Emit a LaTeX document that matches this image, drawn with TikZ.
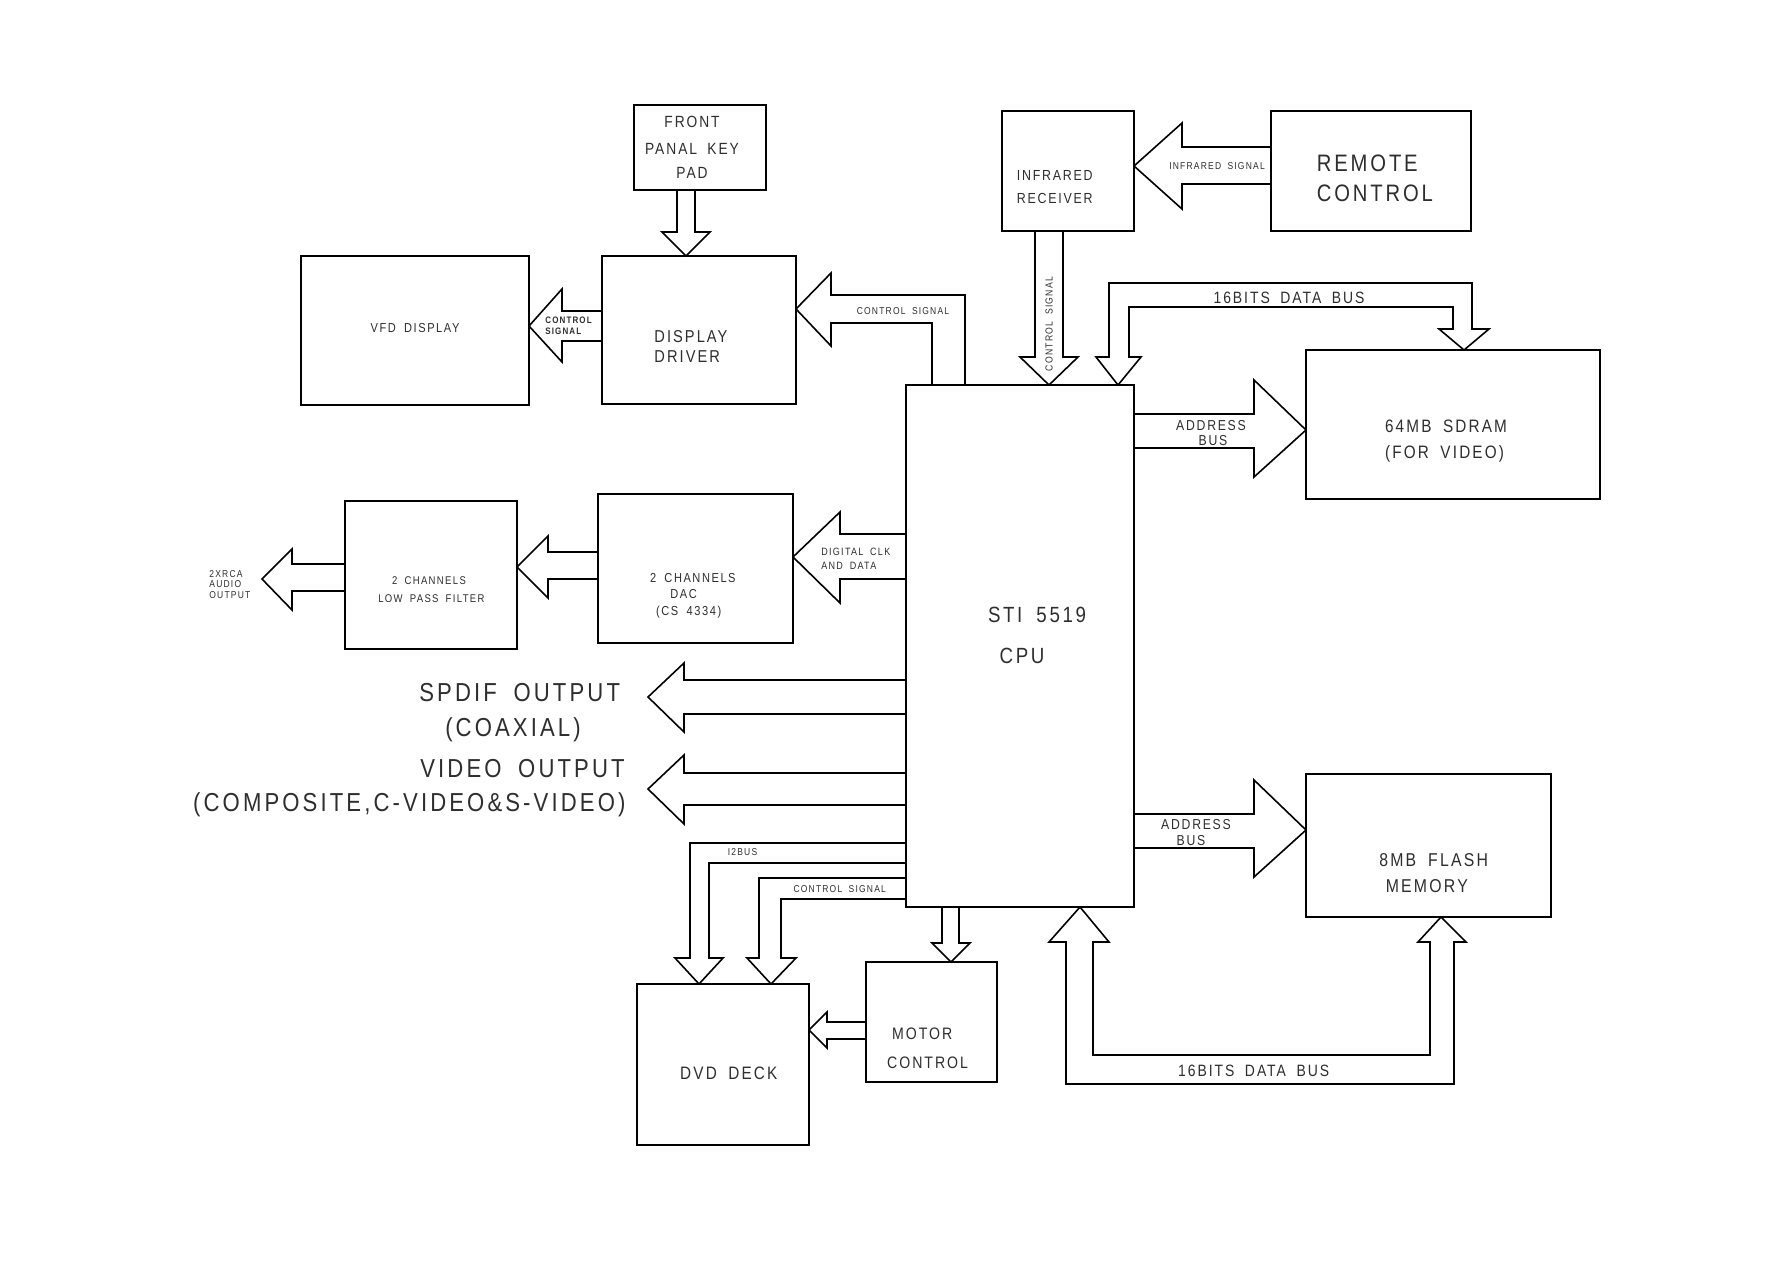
\documentclass[tikz,border=0pt]{standalone}
\usepackage{fontspec}
\setmainfont{Liberation Sans}[LetterSpace=12.0,FakeStretch=0.85,WordSpace=1.8]
\newcommand\fsz[1]{\fontsize{#1pt}{#1pt}\selectfont}
\begin{document}
\begin{tikzpicture}[x=0.5pt,y=-0.5pt,
  box/.style={draw, line width=0.8pt, outer sep=0pt, inner sep=0pt, anchor=north west},
  blk/.style={draw, line width=0.8pt, line join=miter},
  t/.style={inner sep=0pt, anchor=base, text=black!82},
  tl/.style={inner sep=0pt, anchor=base west, text=black!82}]
\fill[white] (0,0) rectangle (1787,1263);
\useasboundingbox (0,0) rectangle (1787,1263);

% ---------- boxes ----------
\node[box, minimum width=66pt,   minimum height=42.5pt] (front) at (634,105) {};
\node[box, minimum width=114pt,  minimum height=74.5pt] (vfd)   at (301,256) {};
\node[box, minimum width=97pt,   minimum height=74pt]   (drv)   at (602,256) {};
\node[box, minimum width=66pt,   minimum height=60pt]   (irr)   at (1002,111) {};
\node[box, minimum width=100pt,  minimum height=60pt]   (rc)    at (1271,111) {};
\node[box, minimum width=114pt,  minimum height=261pt]  (cpu)   at (906,385) {};
\node[box, minimum width=147pt,  minimum height=74.5pt] (sdram) at (1306,350) {};
\node[box, minimum width=86pt,   minimum height=74pt]   (lpf)   at (345,501) {};
\node[box, minimum width=97.5pt, minimum height=74.5pt] (dac)   at (598,494) {};
\node[box, minimum width=122.5pt,minimum height=71.5pt] (flash) at (1306,774) {};
\node[box, minimum width=86pt,   minimum height=80.5pt] (dvd)   at (637,984) {};
\node[box, minimum width=65.5pt, minimum height=60pt]   (motor) at (866,962) {};

\coordinate (aout) at (262,579);
\coordinate (spdifend) at (648,697);
\coordinate (vidend) at (648,789);

% ---------- block arrows ----------
% front panel -> display driver
\draw[blk] (front.south -| 677,0) -- (677,232) -- (662,232) -- (drv.north -| 686,0) -- (710,232) -- (695,232) -- (front.south -| 695,0);
% display driver -> VFD
\draw[blk] (drv.west |- 0,311) -- (562,311) -- (562,289) -- (vfd.east |- 0,326) -- (562,362) -- (562,341) -- (drv.west |- 0,341);
% CPU -> display driver
\draw[blk] (cpu.north -| 965,0) -- (965,295) -- (831,295) -- (831,273) -- (drv.east |- 0,309) -- (831,346) -- (831,323) -- (932,323) -- (cpu.north -| 932,0);
% remote -> IR receiver
\draw[blk] (rc.west |- 0,147) -- (1182,147) -- (1182,123) -- (irr.east |- 0,166) -- (1182,209) -- (1182,184) -- (rc.west |- 0,184);
% IR receiver -> CPU
\draw[blk] (irr.south -| 1035,0) -- (1035,357) -- (1020,357) -- (cpu.north -| 1049,0) -- (1078,357) -- (1063,357) -- (irr.south -| 1063,0);
% 16 bit data bus CPU <-> SDRAM
\draw[blk] (cpu.north -| 1118,0) -- (1096,357) -- (1109,357) -- (1109,283) -- (1472,283) -- (1472,329) -- (1489,329) -- (sdram.north -| 1464,0) -- (1439,329) -- (1453,329) -- (1453,307) -- (1129,307) -- (1129,357) -- (1141,357) -- cycle;
% address bus CPU -> SDRAM
\draw[blk] (cpu.east |- 0,414) -- (1254,414) -- (1254,380) -- (sdram.west |- 0,430) -- (1254,477) -- (1254,448) -- (cpu.east |- 0,448);
% address bus CPU -> flash
\draw[blk] (cpu.east |- 0,814) -- (1254,814) -- (1254,780) -- (flash.west |- 0,830) -- (1254,877) -- (1254,848) -- (cpu.east |- 0,848);
% 16 bit data bus CPU <-> flash
\draw[blk] (cpu.south -| 1080,0) -- (1109,942) -- (1093,942) -- (1093,1055) -- (1430,1055) -- (1430,942) -- (1418,942) -- (flash.south -| 1441,0) -- (1466,942) -- (1454,942) -- (1454,1084) -- (1066,1084) -- (1066,942) -- (1049,942) -- cycle;
% CPU -> DAC
\draw[blk] (cpu.west |- 0,534) -- (840,534) -- (840,512) -- (dac.east |- 0,557) -- (840,603) -- (840,579) -- (cpu.west |- 0,579);
% DAC -> LPF
\draw[blk] (dac.west |- 0,552) -- (548,552) -- (548,536) -- (lpf.east |- 0,567) -- (548,598) -- (548,579) -- (dac.west |- 0,579);
% LPF -> audio out
\draw[blk] (lpf.west |- 0,564) -- (292,564) -- (292,549) -- (aout) -- (292,610) -- (292,591) -- (lpf.west |- 0,591);
% SPDIF out
\draw[blk] (cpu.west |- 0,680) -- (684,680) -- (684,663) -- (spdifend) -- (684,732) -- (684,714) -- (cpu.west |- 0,714);
% video out
\draw[blk] (cpu.west |- 0,773) -- (684,773) -- (684,755) -- (vidend) -- (684,824) -- (684,805) -- (cpu.west |- 0,805);
% I2BUS
\draw[blk] (cpu.west |- 0,843) -- (690,843) -- (690,958) -- (675,958) -- (dvd.north -| 699,0) -- (723,958) -- (709,958) -- (709,863) -- (cpu.west |- 0,863);
% control signal to DVD deck
\draw[blk] (cpu.west |- 0,878) -- (759,878) -- (759,958) -- (747,958) -- (dvd.north -| 771,0) -- (796,958) -- (781,958) -- (781,899) -- (cpu.west |- 0,899);
% CPU -> motor control
\draw[blk] (cpu.south -| 942,0) -- (942,943) -- (932,943) -- (motor.north -| 951,0) -- (970,943) -- (959,943) -- (cpu.south -| 959,0);
% motor control -> DVD deck
\draw[blk] (motor.west |- 0,1022) -- (827,1022) -- (827,1012) -- (dvd.east |- 0,1030) -- (827,1048) -- (827,1039) -- (motor.west |- 0,1039);

% ---------- texts ----------
\node[t, font=\fsz{8.1}] (tf1) at (692,127.5) {FRONT};
\node[t, font=\fsz{8.1}] (tf2) at (692,154.1) {PANAL KEY};
\node[t, font=\fsz{8.1}] (tf3) at (692,178.5) {PAD};
\node[t, font=\fsz{6.5}] (tvfd) at (415,332.7) {VFD DISPLAY};
\node[tl, font=\fsz{8.6}] (td1) at (654,342.9) {DISPLAY};
\node[tl, font=\fsz{8.6}] (td2) at (654,362.9) {DRIVER};
\node[tl, font=\bfseries\fsz{4.7}] (tc1) at (545,323.4) {CONTROL};
\node[tl, font=\bfseries\fsz{4.7}] (tc2) at (545,334.1) {SIGNAL};
\node[t, font=\fsz{5}] (tc3) at (903,314.3) {CONTROL SIGNAL};
\node[tl, font=\fsz{7.3}] (ti1) at (1016.5,180.2) {INFRARED};
\node[tl, font=\fsz{7.3}] (ti2) at (1016.5,203.5) {RECEIVER};
\node[t, font=\fsz{5}] (tis) at (1217,169.6) {INFRARED SIGNAL};
\node[tl, font=\fsz{11.9}] (tr1) at (1316.5,171.8) {REMOTE};
\node[tl, font=\fsz{11.9}] (tr2) at (1316.5,201.8) {CONTROL};
\node[inner sep=0pt, rotate=90, text=black!82, font=\fsz{5.1}] (tc4) at (1049,324) {CONTROL SIGNAL};
\node[t, font=\fsz{8.2}] (tb1) at (1289,303.2) {16BITS DATA BUS};
\node[t, font=\fsz{7.2}] (ta1) at (1211,430.2) {ADDRESS};
\node[t, font=\fsz{7.2}] (ta2) at (1213,445.9) {BUS};
\node[t, font=\fsz{9}] (ts1) at (1446,432.4) {64MB SDRAM};
\node[t, font=\fsz{9}] (ts2) at (1444.5,458.1) {(FOR VIDEO)};
\node[t, font=\fsz{11}] (tcpu1) at (1037,622.4) {STI 5519};
\node[t, font=\fsz{11}] (tcpu2) at (1022,663.7) {CPU};
\node[t, font=\fsz{7.2}] (ta3) at (1196,829.5) {ADDRESS};
\node[t, font=\fsz{7.2}] (ta4) at (1191,845.2) {BUS};
\node[t, font=\fsz{9.3}] (tfl1) at (1433.7,866) {8MB FLASH};
\node[t, font=\fsz{9.3}] (tfl2) at (1426.8,892.7) {MEMORY};
\node[tl, font=\fsz{5.3}] (tk1) at (821,555.5) {DIGITAL CLK};
\node[tl, font=\fsz{5.3}] (tk2) at (821,569.8) {AND DATA};
\node[t, font=\fsz{5.6}] (tl1) at (429,584) {2 CHANNELS};
\node[t, font=\fsz{5.6}] (tl2) at (431.4,602.3) {LOW PASS FILTER};
\node[t, font=\fsz{6.5}] (tda1) at (692.8,582) {2 CHANNELS};
\node[t, font=\fsz{6.5}] (tda2) at (683.5,598) {DAC};
\node[t, font=\fsz{6.5}] (tda3) at (688.7,615.4) {(CS 4334)};
\node[tl, font=\fsz{5}] (tx1) at (209,577.2) {2XRCA};
\node[tl, font=\fsz{5}] (tx2) at (209,587.6) {AUDIO};
\node[tl, font=\fsz{5}] (tx3) at (209,598) {OUTPUT};
\node[t, font=\fsz{13}] (tsp1) at (519.7,701) {SPDIF OUTPUT};
\node[t, font=\fsz{13}] (tsp2) at (513,736.6) {(COAXIAL)};
\node[t, font=\fsz{13}] (tv1) at (522.5,777.6) {VIDEO OUTPUT};
\node[t, font=\fsz{13}] (tv2) at (409.3,811) {(COMPOSITE,C-VIDEO\&S-VIDEO)};
\node[t, font=\fsz{5}] (ti2c) at (742.5,855.9) {I2BUS};
\node[t, font=\fsz{5}] (tc5) at (839.7,892.6) {CONTROL SIGNAL};
\node[tl, font=\fsz{8.3}] (tm1) at (891.7,1039.2) {MOTOR};
\node[tl, font=\fsz{8.3}] (tm2) at (886.7,1068.6) {CONTROL};
\node[t, font=\fsz{9}] (tdvd) at (728.8,1079.7) {DVD DECK};
\node[t, font=\fsz{8.2}] (tb2) at (1253.6,1076.6) {16BITS DATA BUS};
\end{tikzpicture}
\end{document}
